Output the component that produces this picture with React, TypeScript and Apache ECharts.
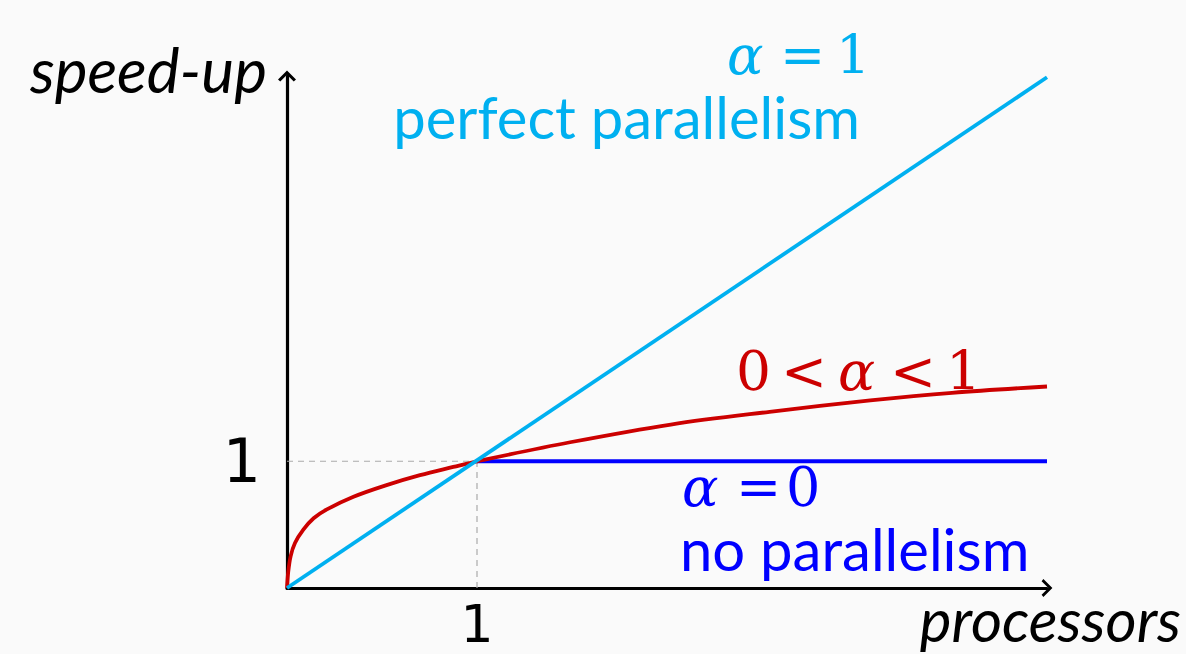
import React, { useEffect, useRef } from "react";
import * as echarts from "echarts";

// Data
const idealX = [0, 4];
const idealY = [0, 4.03];
const serialX = [1, 4];
const serialY = [1, 1];
const partialX = [0, 0.006, 0.019, 0.042, 0.086, 0.14, 0.21, 0.35, 0.52, 0.7, 0.875, 1, 1.49, 2.02, 2.54, 3.07, 3.5, 4];
const partialY = [0, 0.12, 0.25, 0.355, 0.46, 0.55, 0.62, 0.72, 0.81, 0.89, 0.955, 1, 1.15, 1.29, 1.39, 1.48, 1.54, 1.59];
const xTickLabels = ["", "1", "", "", ""];
const yTickLabels = ["", "1", "", "", ""];
const guideX = [1, 1];
const guideY = [0, 1];

const CYAN = "#00b0f0";
const RED = "#cc0000";
const BLUE = "#0000ff";
const SANS = "Lato, 'Noto Sans', sans-serif";
const SERIF = "'DejaVu Serif', 'Liberation Serif', serif";
const TICKFONT = "'DejaVu Sans', sans-serif";
const ARROW = "path://M0,10 L10,0 L20,10 L17.5,12 L10,4.5 L2.5,12 Z";

const zip = (xs: number[], ys: number[]) => xs.map((x, i) => [x, ys[i]]);

type Glyph = [string, number, boolean];
const mathLabel = (glyphs: Glyph[], cy: number, color: string, size = 54) =>
  glyphs.map(([t, x, italic]) => ({
    type: "text",
    x,
    y: cy,
    style: {
      text: t,
      font: `${italic ? "italic " : ""}${size}px ${SERIF}`,
      lineHeight: 42,
      fill: color,
      textAlign: "left",
      textVerticalAlign: "middle",
    },
  }));

export default function App() {
  const ref = useRef<HTMLDivElement>(null);
  useEffect(() => {
    document.body.style.margin = "0";
    const chart = echarts.init(ref.current!, null, { renderer: "svg" });
    const axisCommon = {
      type: "value" as const,
      min: 0,
      max: 4,
      interval: 1,
      splitLine: { show: false },
      axisTick: { show: false },
      axisLine: {
        show: true,
        lineStyle: { color: "#000", width: 3.2 },
        symbol: ["none", ARROW],
        symbolSize: [18, 12],
      },
    };
    chart.setOption({
      animation: false,
      backgroundColor: "#fafafa",
      grid: { left: 287, right: 139, top: 76, bottom: 66, containLabel: false, outerBoundsMode: "none" },
      xAxis: {
        ...axisCommon,
        axisLabel: {
          formatter: (v: number) => xTickLabels[Math.round(v)] ?? "",
          fontSize: 52,
          lineHeight: 52,
          color: "#000",
          fontFamily: TICKFONT,
          margin: 10,
        },
      },
      yAxis: {
        ...axisCommon,
        max: 4.04,
        axisLabel: {
          formatter: (v: number) => yTickLabels[Math.round(v)] ?? "",
          fontSize: 60,
          lineHeight: 46,
          color: "#000",
          fontFamily: TICKFONT,
          margin: 26,
        },
      },
      series: [
        {
          type: "line",
          data: zip(guideX, guideY),
          symbol: "none",
          lineStyle: { color: "#aaa", width: 1.2, type: [6, 5] },
          z: 1,
        },
        {
          type: "line",
          data: zip(guideY, guideX),
          symbol: "none",
          lineStyle: { color: "#aaa", width: 1.2, type: [6, 5] },
          z: 1,
        },
        {
          type: "line",
          data: zip(serialX, serialY),
          symbol: "none",
          lineStyle: { color: BLUE, width: 3.8 },
          z: 2,
        },
        {
          type: "line",
          data: zip(partialX, partialY),
          symbol: "none",
          smooth: 0.35,
          lineStyle: { color: RED, width: 3.8 },
          z: 3,
        },
        {
          type: "line",
          data: zip(idealX, idealY),
          symbol: "none",
          lineStyle: { color: CYAN, width: 3.8 },
          z: 4,
        },
      ],
      graphic: [
        {
          type: "text",
          x: 30,
          y: 69,
          style: { text: "speed-up", font: `italic 62px ${SANS}`, lineHeight: 50, fill: "#000", textVerticalAlign: "middle" },
        },
        {
          type: "text",
          x: 1181,
          y: 619,
          style: {
            text: "processors",
            font: `italic 60px ${SANS}`,
            lineHeight: 48,
            fill: "#000",
            textAlign: "right",
            textVerticalAlign: "middle",
          },
        },
        ...mathLabel([["α", 727, true], ["=", 780, false], ["1", 836, false]], 55, CYAN),
        {
          type: "text",
          x: 860,
          y: 116,
          style: {
            text: "perfect parallelism",
            font: `58px ${SANS}`,
            lineHeight: 48,
            fill: CYAN,
            textAlign: "right",
            textVerticalAlign: "middle",
          },
        },
        ...mathLabel(
          [["0", 736, false], ["<", 781, false], ["α", 838, true], ["<", 890, false], ["1", 946, false]],
          371,
          RED,
          55
        ),
        ...mathLabel([["α", 682, true], ["=", 736, false], ["0", 786, false]], 487, BLUE),
        {
          type: "text",
          x: 680,
          y: 548,
          style: {
            text: "no parallelism",
            font: `58px ${SANS}`,
            lineHeight: 48,
            fill: BLUE,
            textAlign: "left",
            textVerticalAlign: "middle",
          },
        },
      ],
    });
    return () => chart.dispose();
  }, []);
  return <div ref={ref} style={{ position: "fixed", left: 0, top: 0, width: 1186, height: 654 }} />;
}
